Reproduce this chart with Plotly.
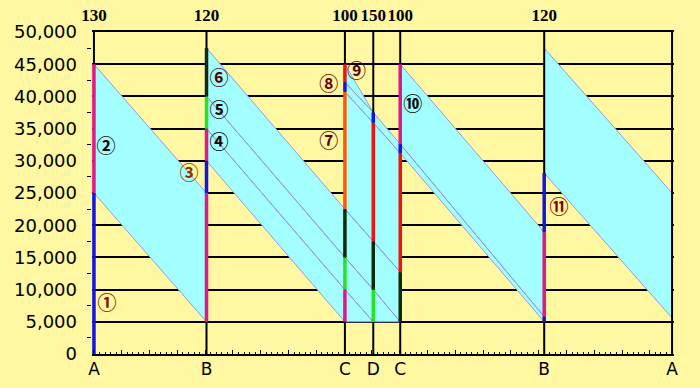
import plotly.graph_objects as go

# ---------------- data ----------------
stations = ["A", "B", "C", "D", "C", "B", "A"]
station_x = [0, 4.05, 9.03, 10.05, 11.02, 16.2, 20.8]
top_labels = ["130", "120", "100", "150", "100", "120"]
y_max = 50000
y_tick_step = 5000

# vertical coloured load segments at stations
seg_station = [0, 0,
               1, 1, 1, 1, 1,
               2, 2, 2, 2, 2, 2,
               3, 3, 3, 3,
               4, 4, 4, 4,
               5, 5, 5]
seg_low = [0, 25000,
           5000, 25000, 30000, 35000, 40000,
           5000, 10000, 15000, 22500, 40700, 42200,
           5000, 10000, 17500, 35900,
           5000, 12700, 31200, 32600,
           5000, 5800, 18900]
seg_high = [25000, 45000,
            25000, 30000, 35000, 40000, 47500,
            10000, 15000, 22500, 40700, 42200, 45000,
            10000, 17500, 35900, 37500,
            12700, 31200, 32600, 45000,
            5800, 18900, 28100]
seg_color = ["blue", "pink",
             "pink", "blue", "pink", "green", "dark",
             "pink", "green", "dark", "orange", "blue", "red",
             "green", "dark", "red", "blue",
             "dark", "red", "blue", "pink",
             "blue", "pink", "blue"]

# cyan bands between stations: from, to, low/high at start, low/high at end
band_from = [0, 1, 1, 1, 2, 2, 2, 2, 2, 2, 3, 3, 3, 3, 4, 4, 5]
band_to = [1, 2, 2, 2, 3, 3, 3, 3, 3, 3, 4, 4, 4, 4, 5, 5, 6]
band_lo0 = [25000, 30000, 35000, 40000, 5000, 10000, 15000, 22500, 40700, 42200,
            5000, 10000, 17500, 35900, 31200, 32600, 28100]
band_hi0 = [45000, 35000, 40000, 47500, 10000, 15000, 22500, 40700, 42200, 45000,
            10000, 17500, 35900, 37500, 32600, 45000, 47500]
band_lo1 = [5000, 5000, 10000, 15000, 5000, 5000, 10000, 17500, 35900, 37500,
            5000, 5000, 12700, 31200, 5000, 5800, 5600]
band_hi1 = [25000, 10000, 15000, 22500, 5000, 10000, 17500, 35900, 37500, 37500,
            5000, 12700, 31200, 32600, 5800, 18900, 25000]

# circled labels
label_text = ["①", "②", "③", "④", "⑤", "⑥", "⑦", "⑧", "⑨", "⑩", "⑪"]
label_x = [0.47, 0.43, 3.42, 4.5, 4.5, 4.5, 8.45, 8.45, 9.45, 11.47, 16.73]
label_y = [7600, 31900, 27700, 32500, 37500, 42500, 32700, 41600, 43600, 38400, 22400]
label_color = ["#7A1400", "#1A0505", "#8A3300", "#100505", "#1A0505", "#4A0505",
               "#5A0000", "#6A0000", "#5A0000", "#0A0A0A", "#7A0000"]

palette = {"blue": "#1414E6", "pink": "#E2168C", "green": "#22E622",
           "dark": "#0C2A0C", "orange": "#FF5A00", "red": "#F01212"}

BG = "#FFF7A1"
CYAN = "#A3FFFF"
EDGE = "#9696EA"

fig = go.Figure()

# cyan band polygons
px, py = [], []
for f, t, a0, b0, a1, b1 in zip(band_from, band_to, band_lo0, band_hi0, band_lo1, band_hi1):
    x0, x1 = station_x[f], station_x[t]
    px += [x0, x0, x1, x1, x0, None]
    py += [a0, b0, b1, a1, a0, None]
fig.add_trace(go.Scatter(x=px, y=py, mode="lines", fill="toself", fillcolor=CYAN,
                         line=dict(color=EDGE, width=1), hoverinfo="skip", showlegend=False))

# black station lines
sx, sy = [], []
for xv in station_x:
    sx += [xv, xv, None]
    sy += [0, y_max, None]
fig.add_trace(go.Scatter(x=sx, y=sy, mode="lines", line=dict(color="black", width=2),
                         hoverinfo="skip", showlegend=False))

# coloured segments
for key, col in palette.items():
    xs, ys = [], []
    for s, lo, hi, c in zip(seg_station, seg_low, seg_high, seg_color):
        if c == key:
            xs += [station_x[s], station_x[s], None]
            ys += [lo, hi, None]
    fig.add_trace(go.Scatter(x=xs, y=ys, mode="lines", line=dict(color=col, width=3.5),
                             hoverinfo="skip", showlegend=False))

# circled numbers
fig.add_trace(go.Scatter(x=label_x, y=label_y, mode="text", text=label_text,
                         textfont=dict(family="Noto Sans CJK JP", size=19, color=label_color,
                                       weight="bold"),
                         hoverinfo="skip", showlegend=False))

# dummy traces to register overlay axes
for ax in ["x2", "x3"]:
    fig.add_trace(go.Scatter(x=[None], y=[None], xaxis=ax, yaxis="y",
                             showlegend=False, hoverinfo="skip"))

pad = 0.07
xr = [station_x[0] - pad, station_x[-1] + pad]
fig.update_layout(
    width=700, height=388,
    margin=dict(l=92, r=26, t=32, b=34, autoexpand=False),
    paper_bgcolor=BG, plot_bgcolor=BG,
    showlegend=False,
    # main bottom axis: regular tick marks only
    xaxis=dict(range=xr, tickmode="linear", tick0=0, dtick=1, ticks="inside", ticklen=4,
               tickwidth=1, tickcolor="black", showticklabels=False,
               showgrid=False, zeroline=False, showline=True,
               linecolor="black", linewidth=2,
               minor=dict(tick0=0, dtick=0.2, ticks="inside", ticklen=2, tickwidth=1,
                          tickcolor="black", showgrid=False)),
    # top axis: segment numbers
    xaxis2=dict(range=xr, overlaying="x", side="top", anchor="y", tickmode="array",
                tickvals=station_x[:6], ticktext=top_labels, ticks="", showgrid=False,
                zeroline=False, showline=True, linecolor="black", linewidth=2,
                ticklabelstandoff=2, tickangle=0,
                tickfont=dict(family="Liberation Serif", size=17, color="black", weight="bold")),
    # bottom overlay axis: station names
    xaxis3=dict(range=xr, overlaying="x", side="bottom", anchor="y", tickmode="array",
                tickvals=station_x, ticktext=stations, ticks="", showgrid=False,
                zeroline=False, showline=False, ticklabelstandoff=3, tickangle=0,
                tickfont=dict(family="DejaVu Sans", size=17, color="black")),
    yaxis=dict(range=[0, y_max], tickmode="linear", tick0=0, dtick=y_tick_step,
               tickformat=",d", ticks="", showgrid=True, gridcolor="black", gridwidth=2,
               zeroline=False, showline=False, ticklabelstandoff=14,
               minor=dict(tick0=y_tick_step / 2, dtick=y_tick_step, ticks="outside",
                          ticklen=4, tickwidth=1, tickcolor="black", showgrid=False),
               tickfont=dict(family="DejaVu Sans", size=18, color="black")),
)

fig.write_html("out.html", config={"displayModeBar": False},
               post_script="document.body.style.margin='0';document.body.style.background='" + BG + "';")
